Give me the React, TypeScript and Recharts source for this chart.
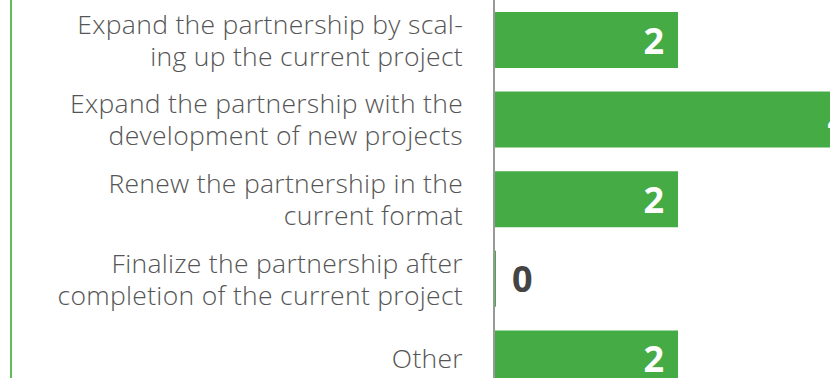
import { BarChart, Bar, XAxis, YAxis, LabelList } from 'recharts';

// Answer options (line breaks as in the original wrapping)
const categories = [
    'Expand the partnership by scal-\ning up the current project',
    'Expand the partnership with the\ndevelopment of new projects',
    'Renew the partnership in the\ncurrent format',
    'Finalize the partnership after\ncompletion of the current project',
    'Other',
];
const counts = [2, 4, 2, 0, 2];

const GREEN = '#45ab45';
const FONT = '"Open Sans", "Noto Sans", sans-serif';

const data = categories.map((name, i) => ({ name, value: counts[i] }));

function CategoryTick({ x, y, payload }: any) {
    const lines = String(payload.value).split('\n');
    const lineH = 32;
    const startY = y - ((lines.length - 1) * lineH) / 2;
    const tx = x - 23;
    return (
        <text x={tx} y={startY} textAnchor="end" fill="#555" fontSize={26.5} letterSpacing={0.3} fontFamily={FONT} fontWeight={300}>
            {lines.map((l, i) => (
                <tspan key={i} x={tx} y={startY + i * lineH} dominantBaseline="central">{l}</tspan>
            ))}
        </text>
    );
}

function ValueLabel({ x, y, width, height, value }: any) {
    const cy = y + height / 2;
    if (!value) {
        return (
            <text x={x + 18} y={cy} dominantBaseline="central" textAnchor="start" fill="#444" fontSize={36} fontWeight={700} fontFamily={FONT}>
                {value}
            </text>
        );
    }
    return (
        <text x={x + width - 14} y={cy} dominantBaseline="central" textAnchor="end" fill="#fff" fontSize={36} fontWeight={700} fontFamily={FONT}>
            {value}
        </text>
    );
}

export default function App() {
    return (
        <div style={{ position: 'absolute', left: 0, top: 0, width: 830, height: 378, overflow: 'hidden', background: '#fff' }}>
            {/* green rule on the left edge */}
            <div style={{ position: 'absolute', left: 10, top: 0, width: 2, height: 378, background: '#5cbf5c' }} />
            <BarChart
                width={870}
                height={398}
                data={data}
                layout="vertical"
                margin={{ top: 0, right: 8, bottom: 0, left: 0 }}
            >
                <XAxis type="number" domain={[0, 4]} hide />
                <YAxis
                    type="category"
                    dataKey="name"
                    width={494}
                    axisLine={{ stroke: '#999', strokeWidth: 2 }}
                    tickLine={false}
                    tick={<CategoryTick />}
                    interval={0}
                />
                <Bar dataKey="value" fill={GREEN} barSize={56} minPointSize={2} isAnimationActive={false}>
                    <LabelList dataKey="value" content={<ValueLabel />} />
                </Bar>
            </BarChart>
        </div>
    );
}
